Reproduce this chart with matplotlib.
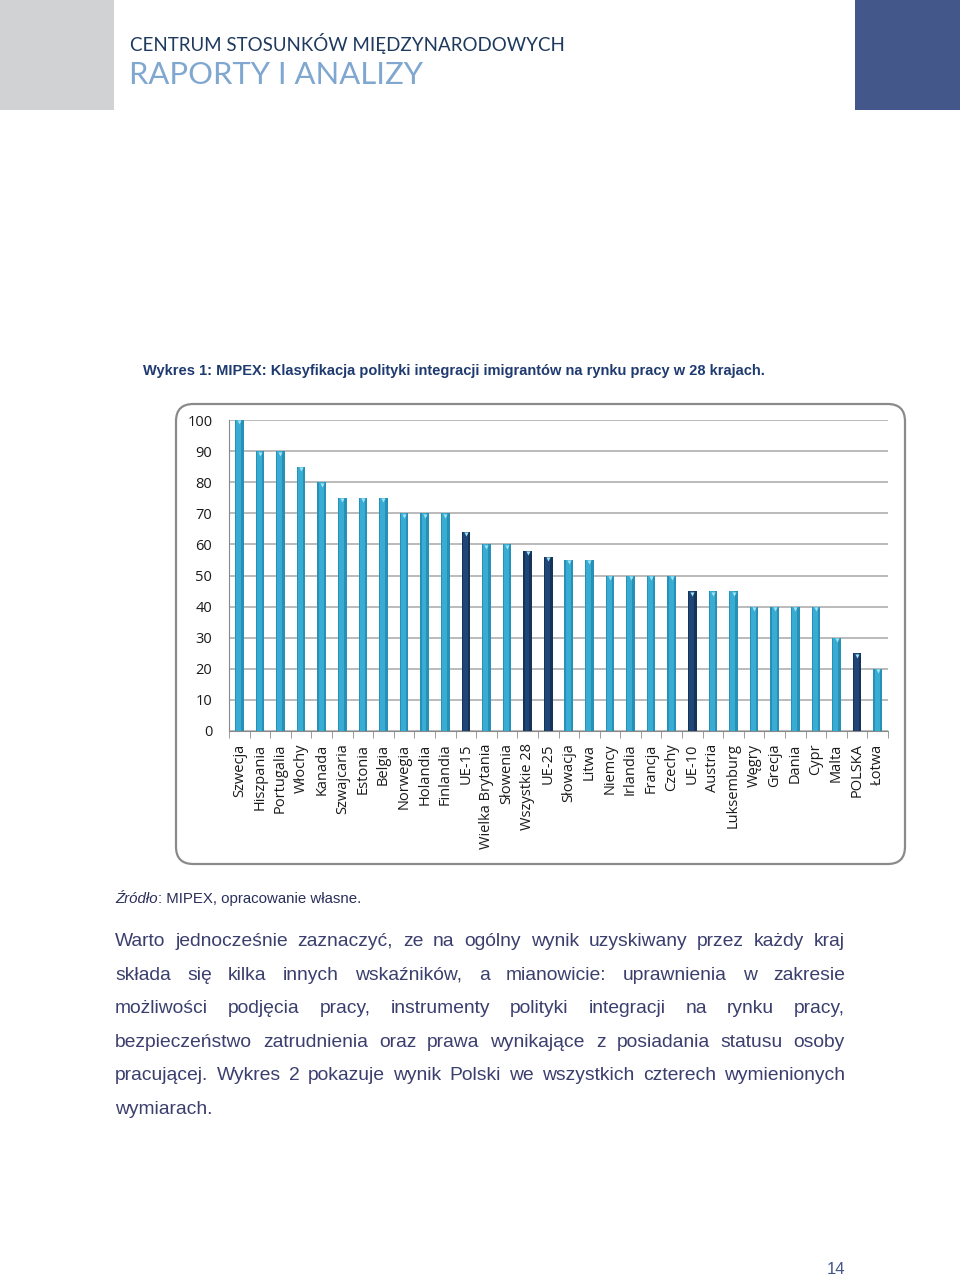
import numpy as np
import matplotlib
matplotlib.use("Agg")
import matplotlib.pyplot as plt
from matplotlib.patches import Rectangle, FancyBboxPatch

W, H = 960, 1282

kraje = ["Szwecja", "Hiszpania", "Portugalia", "Włochy", "Kanada", "Szwajcaria",
         "Estonia", "Belgia", "Norwegia", "Holandia", "Finlandia", "UE-15",
         "Wielka Brytania", "Słowenia", "Wszystkie 28", "UE-25", "Słowacja", "Litwa",
         "Niemcy", "Irlandia", "Francja", "Czechy", "UE-10", "Austria", "Luksemburg",
         "Węgry", "Grecja", "Dania", "Cypr", "Malta", "POLSKA", "Łotwa"]
wyniki = [100, 90, 90, 85, 80, 75, 75, 75, 70, 70, 70, 64, 60, 60, 58, 56, 55, 55,
          50, 50, 50, 50, 45, 45, 45, 40, 40, 40, 40, 30, 25, 20]
grupy = ["UE-15", "Wszystkie 28", "UE-25", "UE-10", "POLSKA"]  # ciemne slupki

y_ticks = list(range(0, 101, 10))

tytul = "Wykres 1: MIPEX: Klasyfikacja polityki integracji imigrantów na rynku pracy w 28 krajach."
akapit = [
    "Warto jednocześnie zaznaczyć, ze na ogólny wynik uzyskiwany przez każdy kraj",
    "składa się kilka innych wskaźników, a mianowicie: uprawnienia w zakresie",
    "możliwości podjęcia pracy, instrumenty polityki integracji na rynku pracy,",
    "bezpieczeństwo zatrudnienia oraz prawa wynikające z posiadania statusu osoby",
    "pracującej. Wykres 2 pokazuje wynik Polski we wszystkich czterech wymienionych",
    "wymiarach.",
]


def fx(px):
    return px / W


def fy(py):
    return 1 - py / H


fig = plt.figure(figsize=(W / 100, H / 100), dpi=100)
fig.patch.set_facecolor("white")

# naglowek strony
fig.patches.append(Rectangle((0, fy(110)), fx(114), 110 / H, transform=fig.transFigure,
                             facecolor="#d1d2d4", edgecolor="none"))
fig.patches.append(Rectangle((fx(855), fy(110)), fx(105), 110 / H, transform=fig.transFigure,
                             facecolor="#44578b", edgecolor="none"))
fig.text(fx(130), fy(44), "CENTRUM STOSUNKÓW MIĘDZYNARODOWYCH", fontsize=13.5,
         family="Lato", color="#1f3a5f", va="center", ha="left")
fig.text(fx(129), fy(75), "RAPORTY I ANALIZY", fontsize=22.3, family="Lato",
         color="#7fa7cf", va="center", ha="left")

fig.text(fx(143), fy(371), tytul, fontsize=10.5, family="Liberation Sans",
         weight="bold", color="#1f3a70", va="center", ha="left")

# ramka wykresu
fig.patches.append(FancyBboxPatch((fx(176), fy(864)), fx(905 - 176), (864 - 404) / H,
                                  boxstyle="round,pad=0,rounding_size=0.018",
                                  transform=fig.transFigure, facecolor="none",
                                  edgecolor="#8a8a8a", linewidth=1.6, mutation_aspect=W / H))

ax = fig.add_axes([fx(229), fy(731), fx(888 - 229), (731 - 420) / H])
x = np.arange(len(kraje))
kolory = ["#16345a" if k in grupy else "#2690b6" for k in kraje]
jasne = ["#1f4676" if k in grupy else "#38acd3" for k in kraje]
ax.bar(x, wyniki, width=0.42, color=kolory, zorder=3)
ax.bar(x - 0.03, wyniki, width=0.24, color=jasne, zorder=3)
ax.scatter(x, np.array(wyniki) - 0.8, marker="v", s=9, color="#9fe3f5", zorder=4,
           linewidths=0)

ax.set_xlim(-0.5, len(kraje) - 0.5)
ax.set_ylim(0, 100)
ax.set_yticks(y_ticks)
ax.set_xticks(x)
ax.set_xticklabels(kraje, rotation=90, fontsize=10.5, family="Open Sans", color="#1a1a1a")
ax.set_xticks(np.arange(len(kraje) + 1) - 0.5, minor=True)
ax.tick_params(axis="x", which="major", length=0, pad=9)
ax.tick_params(axis="x", which="minor", length=5, color="#8a8a8a", direction="out")
ax.tick_params(axis="y", length=0, pad=12, labelsize=10.5, labelcolor="#1a1a1a")
for lab in ax.get_yticklabels():
    lab.set_family("Open Sans")
ax.grid(axis="y", color="#a8a8a8", linewidth=1.1, zorder=0)
for s in ["top", "right"]:
    ax.spines[s].set_visible(False)
ax.spines["left"].set_color("#8a8a8a")
ax.spines["bottom"].set_color("#8a8a8a")
ax.set_facecolor("none")

renderer = fig.canvas.get_renderer()

# zrodlo
t_zr = fig.text(fx(115), fy(899), "Źródło", fontsize=10.8, family="Liberation Sans",
                style="italic", color="#2a2f5a", va="center", ha="left")
w_zr = t_zr.get_window_extent(renderer).width
fig.text(fx(115 + w_zr), fy(899), ": MIPEX, opracowanie własne.", fontsize=10.8,
         family="Liberation Sans", color="#2a2f5a", va="center", ha="left")

# akapit wyjustowany
left, right = 115, 845
for i, line in enumerate(akapit):
    yy = fy(942 + i * 33.4)
    words = line.split(" ")
    if i == len(akapit) - 1:
        fig.text(fx(left), yy, line, fontsize=13.9, family="Liberation Sans",
                 color="#3b3f6e", va="center", ha="left")
        continue
    objs = [fig.text(0, yy, w, fontsize=13.9, family="Liberation Sans",
                     color="#3b3f6e", va="center", ha="left") for w in words]
    widths = [o.get_window_extent(renderer).width for o in objs]
    gap = (right - left - sum(widths)) / (len(words) - 1)
    pos = left
    for o, w in zip(objs, widths):
        o.set_x(fx(pos))
        pos += w + gap

fig.text(fx(836), fy(1270), "14", fontsize=12, family="Liberation Sans",
         color="#44578b", va="center", ha="center")

fig.savefig("out.png", dpi=100)
